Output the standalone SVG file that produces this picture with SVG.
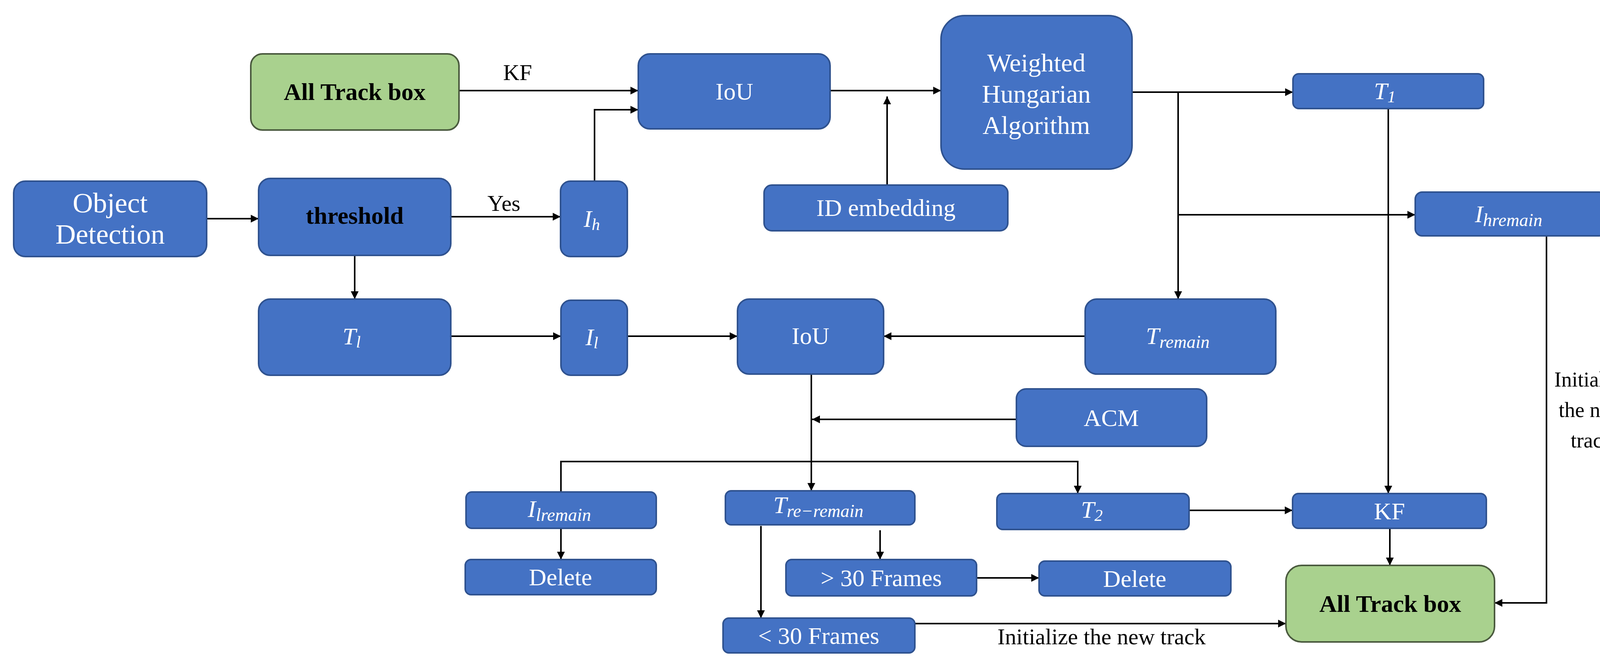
<svg xmlns="http://www.w3.org/2000/svg" width="4251" height="1721" viewBox="0 0 4251 1721">
<style>
.b{fill:#4472C4;stroke:#2F528F;stroke-width:4}
.g{fill:#A9D18E;stroke:#4A5A3E;stroke-width:4}
.t{font-family:"Liberation Serif",serif;font-size:62px;fill:#fff;text-anchor:middle;dominant-baseline:central}
.k{font-family:"Liberation Serif",serif;font-size:58px;fill:#000;text-anchor:middle}
.v{font-size:54px}
.m{font-style:italic}
.c{fill:none;stroke:#000;stroke-width:4}
</style>
<defs><marker id="a" viewBox="0 0 10 10" refX="10" refY="5" markerWidth="5" markerHeight="5" orient="auto"><path d="M0,0L10,5L0,10z"/></marker></defs>
<g id="connectors" class="c">
<path d="M1175,232H1634" marker-end="url(#a)"/>
<path d="M1522,464V281H1634" marker-end="url(#a)"/>
<path d="M529,560H662" marker-end="url(#a)"/>
<path d="M1154,555H1435" marker-end="url(#a)"/>
<path d="M908,654V766" marker-end="url(#a)"/>
<path d="M2125,232H2409" marker-end="url(#a)"/>
<path d="M2271,474V247" marker-end="url(#a)"/>
<path d="M2898,236H3310" marker-end="url(#a)"/>
<path d="M3016,236V766" marker-end="url(#a)"/>
<path d="M3016,550H3623" marker-end="url(#a)"/>
<path d="M1154,861H1436" marker-end="url(#a)"/>
<path d="M1606,861H1888" marker-end="url(#a)"/>
<path d="M2778,861H2262" marker-end="url(#a)"/>
<path d="M2077,958V1257" marker-end="url(#a)"/>
<path d="M2602,1074H2079" marker-end="url(#a)"/>
<path d="M1436,1260V1182H2759V1264" marker-end="url(#a)"/>
<path d="M1436,1353V1433" marker-end="url(#a)"/>
<path d="M1948,1347V1583" marker-end="url(#a)"/>
<path d="M2253,1358V1433" marker-end="url(#a)"/>
<path d="M2500,1480H2660" marker-end="url(#a)"/>
<path d="M3044,1307H3309" marker-end="url(#a)"/>
<path d="M3554,278V1264" marker-end="url(#a)"/>
<path d="M3558,1353V1448" marker-end="url(#a)"/>
<path d="M3959,604V1544H3826" marker-end="url(#a)"/>
<path d="M2342,1597H3292" marker-end="url(#a)"/>
</g>
<g id="labels">
<text class="k" x="1325" y="205">KF</text>
<text class="k" x="1290" y="540">Yes</text>
<text class="k" x="2820" y="1650">Initialize the new track</text>
<text class="k v" x="4075" y="990">Initialize</text>
<text class="k v" x="4075" y="1068">the new</text>
<text class="k v" x="4075" y="1146">track</text>
</g>
<g id="allTrack1"><rect class="g" x="642" y="138" width="533" height="195" rx="30"/><text class="t" x="908" y="235" style="fill:#000;font-weight:bold">All Track box</text></g>
<g id="iou1"><rect class="b" x="1634" y="138" width="491" height="192" rx="30"/><text class="t" x="1880" y="234">IoU</text></g>
<g id="objDet"><rect class="b" x="35" y="464" width="494" height="193" rx="30"/><text class="t" x="282" y="520" style="font-size:72px">Object</text><text class="t" x="282" y="600" style="font-size:72px">Detection</text></g>
<g id="threshold"><rect class="b" x="662" y="457" width="492" height="197" rx="30"/><text class="t" x="908" y="552" style="fill:#000;font-weight:bold">threshold</text></g>
<g id="Ih"><rect class="b" x="1435" y="464" width="171" height="193" rx="25"/><text class="t m" x="1515" y="560">I<tspan font-size="42" dy="15">h</tspan></text></g>
<g id="idEmb"><rect class="b" x="1956" y="474" width="624" height="117" rx="20"/><text class="t" x="2268" y="532">ID embedding</text></g>
<g id="weighted"><rect class="b" x="2409" y="40" width="489" height="393" rx="60"/><text class="t" x="2653" y="160" style="font-size:66px">Weighted</text><text class="t" x="2653" y="240" style="font-size:66px">Hungarian</text><text class="t" x="2653" y="320" style="font-size:66px">Algorithm</text></g>
<g id="T1"><rect class="b" x="3310" y="189" width="488" height="89" rx="15"/><text class="t m" x="3545" y="233">T<tspan font-size="42" dy="15">1</tspan></text></g>
<g id="Ihremain"><rect class="b" x="3623" y="492" width="488" height="112" rx="18"/><text class="t m" x="3862" y="548">I<tspan font-size="46" dy="15">hremain</tspan></text></g>
<g id="Tl"><rect class="b" x="662" y="766" width="492" height="195" rx="30"/><text class="t m" x="900" y="861">T<tspan font-size="42" dy="15">l</tspan></text></g>
<g id="Il"><rect class="b" x="1436" y="769" width="170" height="192" rx="25"/><text class="t m" x="1515" y="863">I<tspan font-size="42" dy="15">l</tspan></text></g>
<g id="iou2"><rect class="b" x="1888" y="766" width="374" height="192" rx="30"/><text class="t" x="2075" y="860">IoU</text></g>
<g id="Tremain"><rect class="b" x="2778" y="766" width="488" height="192" rx="30"/><text class="t m" x="3015" y="860">T<tspan font-size="46" dy="15">remain</tspan></text></g>
<g id="acm"><rect class="b" x="2602" y="996" width="487" height="147" rx="25"/><text class="t" x="2845" y="1070">ACM</text></g>
<g id="Ilremain"><rect class="b" x="1193" y="1260" width="487" height="93" rx="15"/><text class="t m" x="1432" y="1303">I<tspan font-size="46" dy="15">lremain</tspan></text></g>
<g id="Treremain"><rect class="b" x="1857" y="1257" width="485" height="87" rx="15"/><text class="t m" x="2095" y="1293">T<tspan font-size="46" dy="15">re−remain</tspan></text></g>
<g id="T2"><rect class="b" x="2552" y="1264" width="492" height="92" rx="15"/><text class="t m" x="2795" y="1305">T<tspan font-size="42" dy="15">2</tspan></text></g>
<g id="KF"><rect class="b" x="3309" y="1264" width="496" height="89" rx="15"/><text class="t" x="3557" y="1309">KF</text></g>
<g id="delete1"><rect class="b" x="1191" y="1433" width="489" height="90" rx="15"/><text class="t" x="1435" y="1478">Delete</text></g>
<g id="gt30"><rect class="b" x="2012" y="1433" width="488" height="93" rx="15"/><text class="t" x="2256" y="1480">&gt; 30 Frames</text></g>
<g id="delete2"><rect class="b" x="2660" y="1437" width="491" height="89" rx="15"/><text class="t" x="2905" y="1482">Delete</text></g>
<g id="allTrack2"><rect class="g" x="3292" y="1448" width="534" height="196" rx="40"/><text class="t" x="3559" y="1546" style="fill:#000;font-weight:bold">All Track box</text></g>
<g id="lt30"><rect class="b" x="1851" y="1583" width="491" height="89" rx="15"/><text class="t" x="2096" y="1628">&lt; 30 Frames</text></g>
</svg>
